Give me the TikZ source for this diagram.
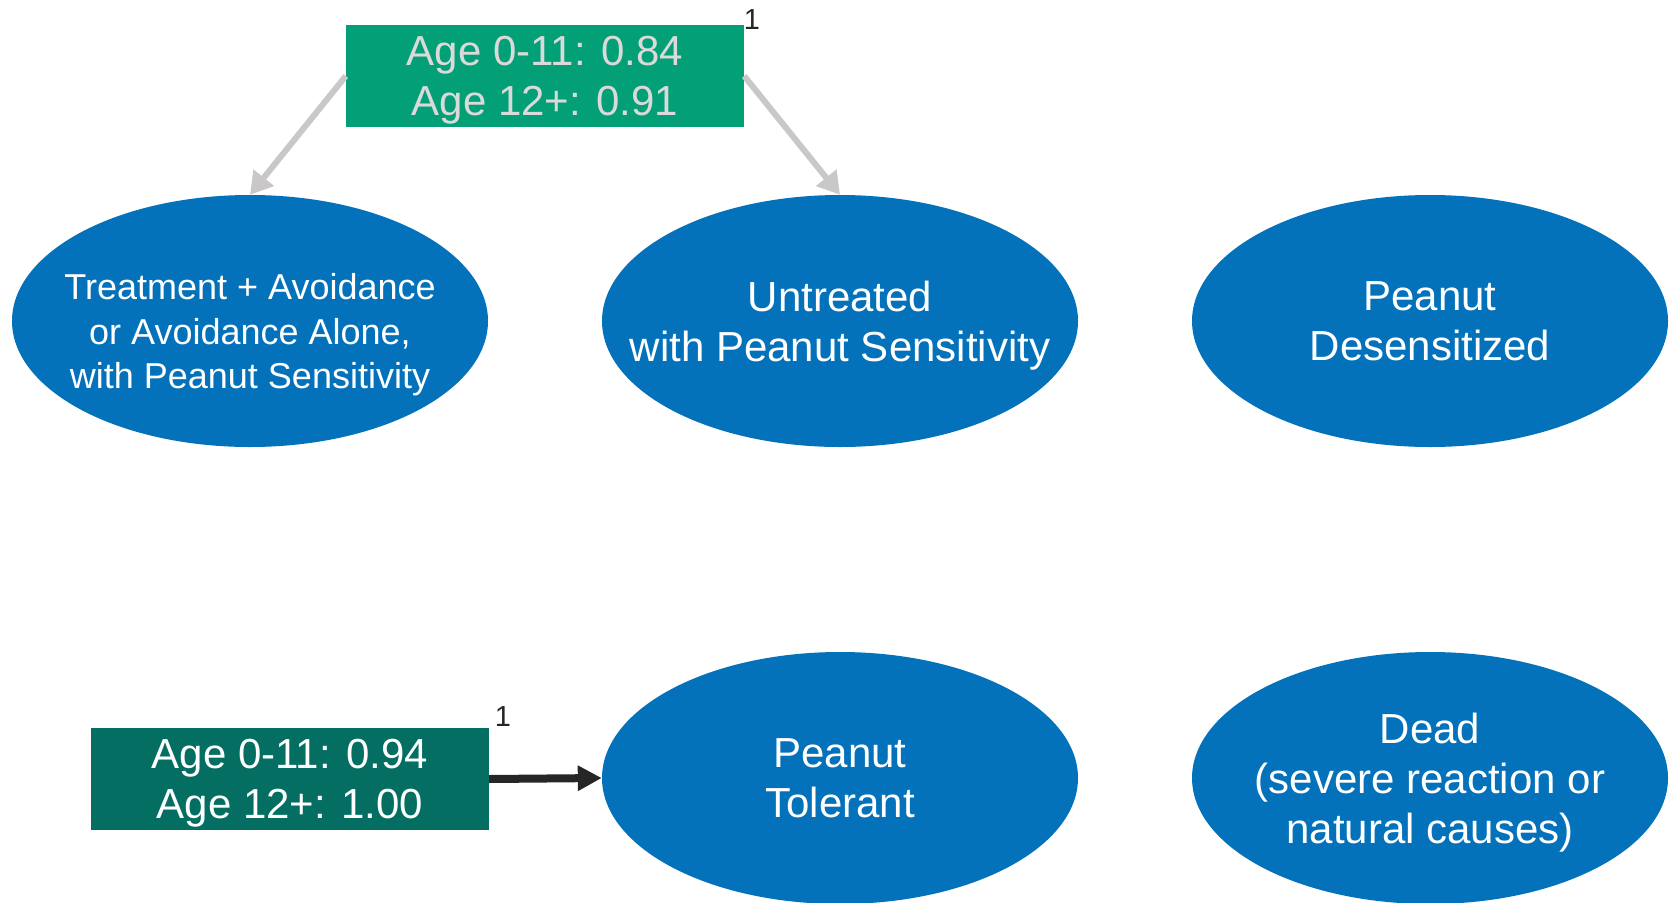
\documentclass[tikz,border=0pt]{standalone}
\usepackage{fontspec}
\setmainfont{Liberation Sans}
\usetikzlibrary{shapes.geometric,arrows.meta}

\definecolor{stateblue}{HTML}{0372BB}
\definecolor{probgreen}{HTML}{03A077}
\definecolor{probdark}{HTML}{036E61}
\definecolor{arrowgray}{HTML}{C9C7C8}
\definecolor{labelgray}{HTML}{DADADA}
\definecolor{arrowdark}{HTML}{262626}

\tikzset{
  stateel/.style={ellipse, fill=stateblue, draw=none, inner sep=0pt,
    minimum width=476pt, minimum height=252pt},
  statetxt/.style={text=white, align=center, inner sep=0pt, text depth=0pt,
    font=\fontsize{42}{50}\selectfont},
  smalltxt/.style={statetxt, font=\fontsize{36}{44.5}\selectfont},
  probbox/.style={rectangle, draw=none, inner sep=0pt,
    minimum width=398pt, minimum height=102pt},
  probtxt/.style={align=center, inner sep=0pt, text depth=0pt,
    font=\fontsize{42}{50}\selectfont},
  notemark/.style={text=arrowdark, inner sep=0pt, font=\fontsize{29}{32}\selectfont},
  grayarrow/.style={draw=arrowgray, line width=6pt,
    -{Triangle[length=22pt,width=25pt]}},
  darkarrow/.style={draw=arrowdark, line width=8pt,
    -{Triangle[length=24pt,width=24pt]}}
}

\begin{document}
\begin{tikzpicture}[x=1pt,y=-1pt]
  \useasboundingbox (0,0) rectangle (1669,902);

  % health states
  \node[stateel] (treat) at (250,321) {};
  \node[smalltxt, yshift=-10pt] (treattxt) at (treat.center)
    {Treatment + Avoidance\\or Avoidance Alone,\\with Peanut Sensitivity};

  \node[stateel] (untr) at (840,321) {};
  \node[statetxt] (untrtxt) at (untr.center) {Untreated\\with Peanut Sensitivity};

  \node[stateel] (desens) at (1430,321) {};
  \node[statetxt] (desenstxt) at (desens.center) {Peanut\\Desensitized};

  \node[stateel] (tol) at (840,778) {};
  \node[statetxt] (toltxt) at (tol.center) {Peanut\\Tolerant};

  \node[stateel] (dead) at (1430,778) {};
  \node[statetxt] (deadtxt) at (dead.center) {Dead\\(severe reaction or\\natural causes)};

  % transition probabilities
  \node[probbox, fill=probgreen] (ptop) at (545,76) {};
  \node[probtxt, text=labelgray] (ptoptxt) at (ptop.center)
    {Age 0-11: 0.84\\Age 12+: 0.91};
  \node[notemark] (ntop) at (752,19.5) {1};

  \node[probbox, fill=probdark] (pbot) at (290,779) {};
  \node[probtxt, text=white] (pbottxt) at (pbot.center)
    {Age 0-11: 0.94\\Age 12+: 1.00};
  \node[notemark] (nbot) at (503,716.5) {1};

  % connectors
  \draw[grayarrow] (ptop.west) -- (treat.north);
  \draw[grayarrow] (ptop.east) -- (untr.north);
  \draw[darkarrow] (pbot.east) -- (tol.west);
\end{tikzpicture}
\end{document}
